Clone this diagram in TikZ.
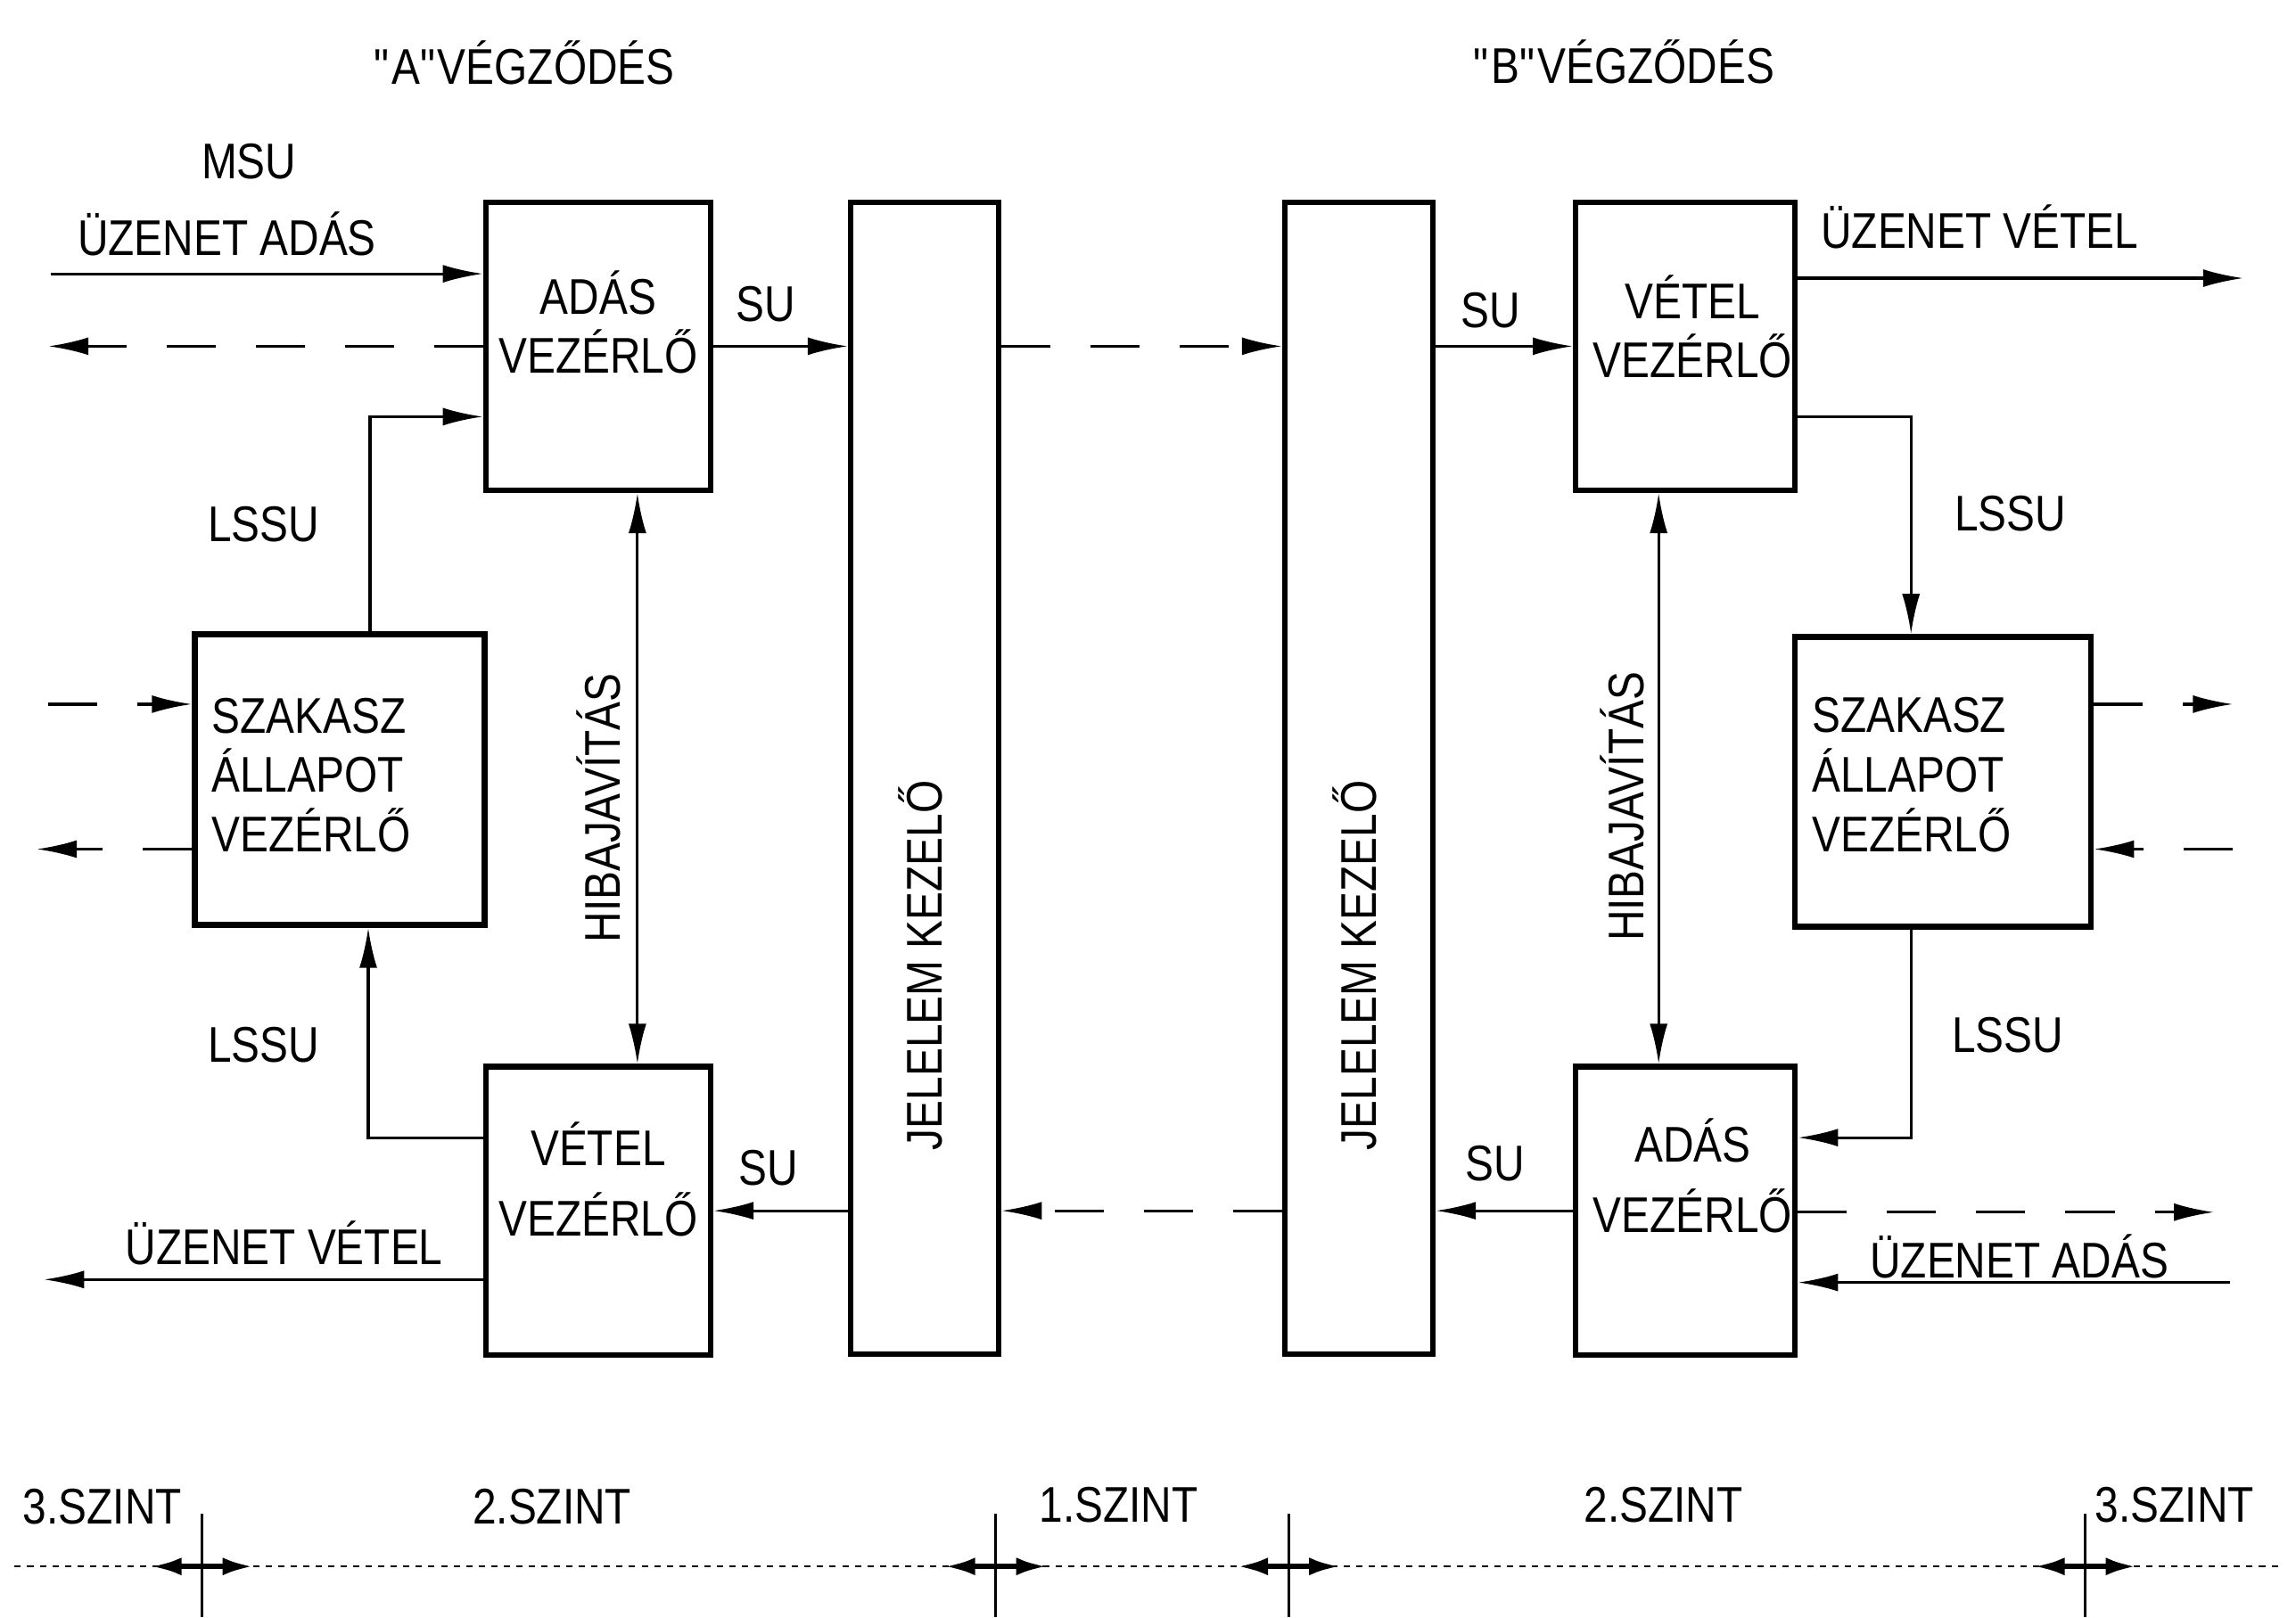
\documentclass[tikz,border=0pt]{standalone}
\usepackage{fontspec}
\setmainfont{Liberation Sans}[FakeStretch=0.85]
\usetikzlibrary{arrows.meta,positioning}

\begin{document}
\begin{tikzpicture}[
  x=0.016422cm, y=-0.016422cm,
  font=\fontsize{16}{19}\selectfont,
  blk/.style={draw, line width=1.8pt, rectangle, inner sep=0pt},
  ctrl/.style={blk, minimum width=2.52cm, minimum height=3.23cm},
  szak/.style={blk, minimum width=3.25cm, minimum height=3.26cm},
  jel/.style={blk, minimum width=1.66cm, minimum height=12.92cm},
  txt/.style={align=center, inner sep=1pt},
  arr/.style={-{Latex[length=4.5mm,width=2mm]}, line width=0.9pt},
  arr2/.style={{Latex[length=4.5mm,width=2mm]}-{Latex[length=4.5mm,width=2mm]}, line width=0.9pt},
  dashline/.style={dash pattern=on 5.5mm off 4.5mm},
  lvl/.style={{Latex[length=3.5mm,width=2mm]}-{Latex[length=3.5mm,width=2mm]}, line width=1.8pt}
]
\useasboundingbox (0,0) rectangle (1568,1105);

% titles
\node[txt] (titA) at (358,43) {\textquotedbl A\textquotedbl VÉGZŐDÉS};
\node[txt] (titB) at (1109,42) {\textquotedbl B\textquotedbl VÉGZŐDÉS};

% "A" side blocks
\node[ctrl] (adasA) at (408.5,236.5) {};
\node[ctrl] (vetA) at (408.5,827) {};
\node[szak] (szakA) at (232,532.5) {};
\node[jel] (jelA) at (631.5,531.5) {};

% "B" side blocks
\node[jel] (jelB) at (928,531.5) {};
\node[ctrl, minimum width=2.46cm] (vetB) at (1151,236.5) {};
\node[ctrl, minimum width=2.46cm] (adasB) at (1151,827) {};
\node[szak, minimum width=3.32cm, minimum height=3.25cm] (szakB) at (1327,534) {};

% block texts
\node[txt] (adasAt) at ([yshift=0.27cm]adasA.center) {ADÁS\\VEZÉRLŐ};
\node[txt] (vetAt) at ([yshift=0.35cm]vetA.center) {VÉTEL\\[0.12cm]VEZÉRLŐ};
\node[txt, align=left, anchor=west] (szakAt) at ([xshift=0.18cm,yshift=0.05cm]szakA.west) {SZAKASZ\\ÁLLAPOT\\VEZÉRLŐ};
\node[txt] (vetBt) at ([xshift=0.08cm,yshift=0.22cm]vetB.center) {VÉTEL\\VEZÉRLŐ};
\node[txt] (adasBt) at ([xshift=0.08cm,yshift=0.39cm]adasB.center) {ADÁS\\[0.12cm]VEZÉRLŐ};
\node[txt, align=left, anchor=west] (szakBt) at ([xshift=0.18cm,yshift=0.08cm]szakB.west) {SZAKASZ\\ÁLLAPOT\\VEZÉRLŐ};
\node[txt, rotate=90] (jelAt) at ([xshift=-0.05cm,yshift=-2.1cm]jelA.center) {JELELEM KEZELŐ};
\node[txt, rotate=90] (jelBt) at ([xshift=-0.05cm,yshift=-2.1cm]jelB.center) {JELELEM KEZELŐ};

% free ends
\coordinate (inA) at (35,187);
\coordinate (outA) at (33,236.5);
\coordinate (szInA) at (33,481);
\coordinate (szOutA) at (25,580);
\coordinate (vetOutA) at (30,874);
\coordinate (vetOutB) at (1532,190);
\coordinate (szOutB) at (1525,481);
\coordinate (szInB) at (1525,580);
\coordinate (adOutB) at (1512,828);
\coordinate (adInB) at (1523,876);

% "A" side connectors
\draw[arr] (inA) -- (inA -| adasA.west);
\draw[arr, dashline] (adasA.west) -- (outA);
\draw[arr] (adasA.east) -- (adasA.east -| jelA.west);
\draw[arr] ([xshift=0.34cm]szakA.north) |- ([yshift=-0.79cm]adasA.west);
\draw[arr] ([yshift=0.82cm]vetA.west) -| ([xshift=0.32cm]szakA.south);
\draw[arr2] ([xshift=0.44cm]adasA.south) -- ([xshift=0.44cm]vetA.north);
\draw[arr] (jelA.west |- vetA.east) -- (vetA.east);
\draw[arr] (vetA.west |- vetOutA) -- (vetOutA);
\draw[arr, dashline] (szInA) -- (szInA -| szakA.west);
\draw[arr, dashline] (szOutA -| szakA.west) -- (szOutA);

% link between the two ends
\draw[arr, dashline] (jelA.east |- adasA.east) -- (jelB.west |- adasA.east);
\draw[arr, dashline] (jelB.west |- adasB.west) -- (jelA.east |- adasB.west);

% "B" side connectors
\draw[arr] (jelB.east |- vetB.west) -- (vetB.west);
\draw[arr] (vetB.east |- vetOutB) -- (vetOutB);
\draw[arr] ([yshift=-0.79cm]vetB.east) -| ([xshift=-0.36cm]szakB.north);
\draw[arr] ([xshift=-0.36cm]szakB.south) |- ([yshift=0.82cm]adasB.east);
\draw[arr2] ([xshift=-0.3cm]vetB.south) -- ([xshift=-0.3cm]adasB.north);
\draw[arr] (adasB.west) -- (adasB.west -| jelB.east);
\draw[arr, dashline] (adasB.east |- adOutB) -- (adOutB);
\draw[arr] (adInB) -- (adInB -| adasB.east);
\draw[arr, dashline] (szakB.east |- szOutB) -- (szOutB);
\draw[arr, dashline] (szInB) -- (szInB -| szakB.east);

% connector labels
\node[txt] (msu) at (170,110) {MSU};
\node[txt] (uzAdA) at (155,160) {ÜZENET ADÁS};
\node[txt] (suA1) at (523,208) {SU};
\node[txt] (lssuA1) at (180,358) {LSSU};
\node[txt] (lssuA2) at (180,714) {LSSU};
\node[txt, rotate=90] (hibaA) at (409,552) {HIBAJAVÍTÁS};
\node[txt] (suA2) at (525,798) {SU};
\node[txt] (uzVetA) at (194,849) {ÜZENET VÉTEL};
\node[txt] (suB1) at (1018,212) {SU};
\node[txt] (uzVetB) at (1352,155) {ÜZENET VÉTEL};
\node[txt] (lssuB1) at (1373,351) {LSSU};
\node[txt, rotate=90] (hibaB) at (1108,551) {HIBAJAVÍTÁS};
\node[txt] (lssuB2) at (1371,707) {LSSU};
\node[txt] (suB2) at (1021,795) {SU};
\node[txt] (uzAdB) at (1379,858) {ÜZENET ADÁS};

% levels scale
\coordinate (sclL) at (10,1070);
\coordinate (sclR) at (1558,1070);
\draw[line width=0.6pt, dash pattern=on 2pt off 2pt] (sclL) -- (sclR);
\foreach \tx/\tn in {138/t1, 680/t2, 880/t3, 1424/t4} {
  \coordinate (\tn) at (\tx,1070);
  \draw[line width=0.9pt] ([yshift=0.59cm]\tn) -- ([yshift=-0.57cm]\tn);
  \draw[lvl] ([xshift=-0.58cm]\tn) -- ([xshift=0.58cm]\tn);
}
\node[txt] (lv3A) at (70,1029) {3.SZINT};
\node[txt] (lv2A) at (377,1029) {2.SZINT};
\node[txt] (lv1) at (764,1028) {1.SZINT};
\node[txt] (lv2B) at (1136,1028) {2.SZINT};
\node[txt] (lv3B) at (1485,1028) {3.SZINT};

\end{tikzpicture}
\end{document}
